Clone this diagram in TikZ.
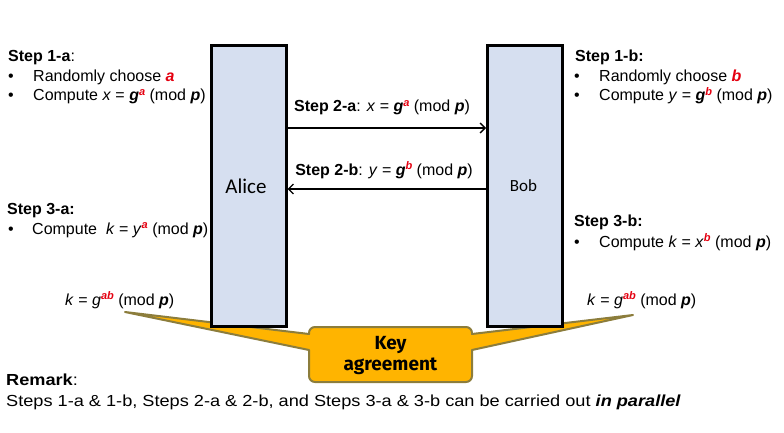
\documentclass[tikz,border=0pt]{standalone}
\usepackage{fontspec}
\setmainfont{Liberation Sans}
\newfontfamily\calibri{Carlito}
\newfontfamily\keyfont{Fira Sans}
\usetikzlibrary{arrows.meta}
\definecolor{boxblue}{RGB}{214,223,240}
\definecolor{keyfill}{RGB}{255,180,0}
\definecolor{keyedge}{RGB}{140,125,60}
\definecolor{supred}{RGB}{228,0,16}
\newcommand{\rs}[1]{\raisebox{5.5pt}{\fontsize{11}{11}\selectfont\bfseries\itshape\color{supred}#1}}
\newcommand{\bv}[1]{\textbf{\textit{#1}}}
\begin{document}
\begin{tikzpicture}[x=1pt,y=-1pt,
  txt/.style={anchor=base west, inner sep=0pt, font=\fontsize{16}{20}\selectfont},
  ctxt/.style={anchor=base, inner sep=0pt, font=\fontsize{16}{20}\selectfont},
  party/.style={draw=black, line width=3pt, fill=boxblue, minimum width=74.5pt, minimum height=281pt, anchor=north west, inner sep=0pt},
  callout/.style={fill=keyfill, draw=keyedge, line width=2pt, line join=round},
  msg/.style={line width=1.3pt, -{Straight Barb[length=5pt,width=10pt]}}]
\useasboundingbox (0,0) rectangle (784,433);
% callout with tails (behind the boxes)
\draw[callout]
  (309,334) -- (309,333) arc[start angle=180,end angle=270,radius=6]
  -- (466,327) arc[start angle=270,end angle=360,radius=6]
  -- (472,334) -- (633,315) -- (472,350)
  -- (472,376) arc[start angle=0,end angle=90,radius=6]
  -- (315,382) arc[start angle=90,end angle=180,radius=6]
  -- (309,350) -- (125,312) -- cycle;
\node[inner sep=0pt, align=center, font=\keyfont\bfseries\fontsize{19}{21}\selectfont] (key) at (390.5,356) {Key\\agreement};
% parties
\node[party] (alice) at (210,44) {};
\node[party] (bob) at (486,44) {};
\node[anchor=base, inner sep=0pt, font=\calibri\fontsize{21}{24}\selectfont] (alicel) at (246,193) {Alice};
\node[anchor=base, inner sep=0pt, font=\calibri\fontsize{17}{20}\selectfont] (bobl) at (523.5,191) {Bob};
% messages
\draw[msg] (alice.east |- 0,128) -- (bob.west |- 0,128);
\draw[msg] (bob.west |- 0,189) -- (alice.east |- 0,189);
\node[ctxt] (s2a) at (382,112) {\textbf{Step 2-a}: \textit{x} = \bv{g}\rs{a} (mod \bv{p})};
\node[ctxt] (s2b) at (384,175) {\textbf{Step 2-b}: \textit{y} = \bv{g}\rs{b} (mod \bv{p})};
% step 1-a
\node[txt] (s1a) at (8,62) {\textbf{Step 1-a}:};
\node[txt] (s1ab1) at (8,82) {•};
\node[txt] (s1at1) at (33,82) {Randomly choose \textcolor{supred}{\bv{a}}};
\node[txt] (s1ab2) at (8,101) {•};
\node[txt] (s1at2) at (33,101) {Compute \textit{x} = \bv{g}\rs{a} (mod \bv{p})};
% step 1-b
\node[txt] (s1b) at (575,62) {\textbf{Step 1-b:}};
\node[txt] (s1bb1) at (574,82) {•};
\node[txt] (s1bt1) at (599,82) {Randomly choose \textcolor{supred}{\bv{b}}};
\node[txt] (s1bb2) at (574,101) {•};
\node[txt] (s1bt2) at (599,101) {Compute \textit{y} = \bv{g}\rs{b} (mod \bv{p})};
% step 3-a
\node[txt] (s3a) at (7,214) {\textbf{Step 3-a:}};
\node[txt] (s3ab) at (8,234) {•};
\node[txt] (s3at) at (32,234) {Compute~ \textit{k} = \textit{y}\rs{a} (mod \bv{p})};
\node[txt] (ka) at (65,305) {\textit{k} = \textit{g}\rs{ab} (mod \bv{p})};
% step 3-b
\node[txt] (s3b) at (574,226) {\textbf{Step 3-b:}};
\node[txt] (s3bb) at (574,247) {•};
\node[txt] (s3bt) at (599,247) {Compute \textit{k} = \textit{x}\rs{b} (mod \bv{p})};
\node[txt] (kb) at (587,305) {\textit{k} = \textit{g}\rs{ab} (mod \bv{p})};
% remark
\node[txt] (rem) at (6,385) {\scalebox{1.135}[1]{\textbf{Remark}:}};
\node[txt] (remt) at (6,406) {\scalebox{1.135}[1]{Steps 1-a \& 1-b, Steps 2-a \& 2-b, and Steps 3-a \& 3-b can be carried out \bv{in parallel}}};
\end{tikzpicture}
\end{document}
